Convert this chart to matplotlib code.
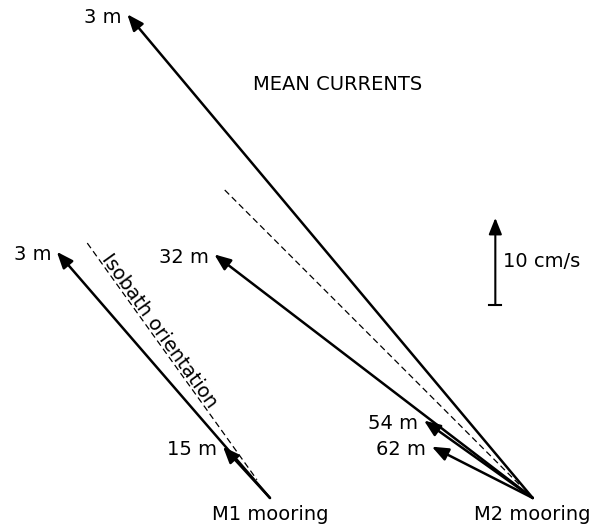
"""Mean current vectors at the M1 and M2 moorings, with isobath orientation."""

import matplotlib

matplotlib.use("Agg")
import matplotlib.pyplot as plt
import numpy as np

# mooring positions (schematic, same units as the vectors, cm/s)
moorings = ["M1 mooring", "M2 mooring"]
mooring_x = [0.0, 30.2]
mooring_y = [0.0, 0.0]

# mean current vectors (u east, v north) in cm/s, per mooring
m1_depths = ["3 m", "15 m"]
m1_u = [-24.5, -5.4]
m1_v = [28.3, 5.9]

m2_depths = ["3 m", "32 m", "54 m", "62 m"]
m2_u = [-46.6, -36.6, -12.5, -11.6]
m2_v = [55.6, 28.0, 8.9, 5.9]

# isobath orientation segments, offsets from each mooring (start, end)
iso_m1 = [(-21.0, 29.3), (-1.5, 2.1)]
iso_m2 = [(-35.4, 35.4), (-1.5, 1.5)]

scale_speed = 10.0  # cm/s
scale_x = 25.9
scale_y0 = 22.2

FONT = 14


def draw_arrow(ax, x0, y0, u, v, lw=1.8):
    ax.annotate(
        "",
        xy=(x0 + u, y0 + v),
        xytext=(x0, y0),
        arrowprops=dict(arrowstyle="-|>,head_length=0.55,head_width=0.22", lw=lw,
                        color="black", mutation_scale=18, shrinkA=0, shrinkB=0),
    )


def main() -> None:
    fig = plt.figure(figsize=(6.0, 5.26), dpi=100)
    ax = fig.add_axes([0, 0, 1, 1])
    ax.set_xlim(-31.03, 37.93)
    ax.set_ylim(-3.22, 57.24)
    ax.axis("off")

    groups = [(m1_depths, m1_u, m1_v, iso_m1), (m2_depths, m2_u, m2_v, iso_m2)]
    for i, (depths, us, vs, iso) in enumerate(groups):
        x0, y0 = mooring_x[i], mooring_y[i]
        (sx, sy), (ex, ey) = iso
        ax.plot([x0 + sx, x0 + ex], [y0 + sy, y0 + ey], color="black", lw=0.9,
                linestyle=(0, (5, 3)))
        for depth, u, v in zip(depths, us, vs):
            draw_arrow(ax, x0, y0, u, v)
            ax.annotate(depth, xy=(x0 + u, y0 + v), xytext=(-4, -2), textcoords="offset points",
                        ha="right", va="center", fontsize=FONT)
        ax.annotate(moorings[i], xy=(x0, y0), xytext=(0, -12), textcoords="offset points",
                    ha="center", va="center", fontsize=FONT)

    # isobath label sitting on the M1 dashed line
    (sx, sy), (ex, ey) = iso_m1
    ang = np.degrees(np.arctan2(sy - ey, sx - ex)) - 180
    t = 0.39
    ax.annotate("Isobath orientation", xy=(sx + t * (ex - sx), sy + t * (ey - sy)),
                xytext=(1, 1), textcoords="offset points", rotation=ang,
                rotation_mode="anchor", ha="center", va="baseline", fontsize=FONT)

    # scale arrow
    draw_arrow(ax, scale_x, scale_y0, 0.0, scale_speed, lw=1.5)
    ax.plot([scale_x - 0.7, scale_x + 0.7], [scale_y0, scale_y0], color="black", lw=1.5)
    ax.text(scale_x + 0.9, scale_y0 + scale_speed / 2, f"{scale_speed:g} cm/s",
            ha="left", va="center", fontsize=FONT)

    ax.text(7.8, 47.5, "MEAN CURRENTS", ha="center", va="center", fontsize=FONT)

    fig.savefig("out.png", dpi=100)
    plt.close(fig)


if __name__ == "__main__":
    main()
